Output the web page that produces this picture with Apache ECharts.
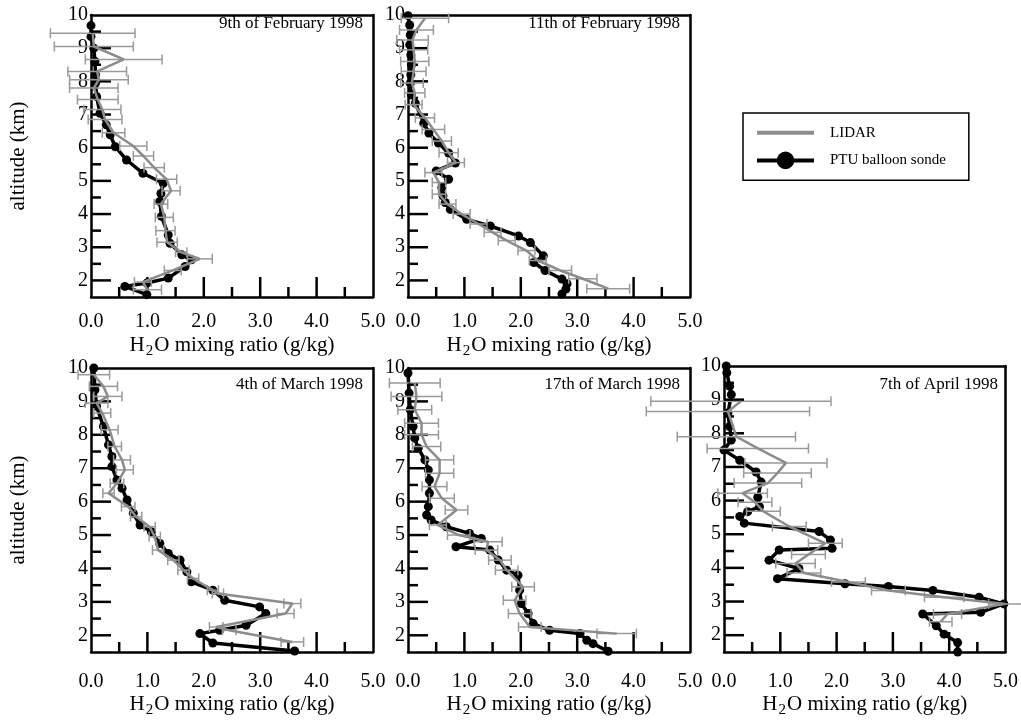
<!DOCTYPE html>
<html>
<head>
<meta charset="utf-8">
<title>H2O mixing ratio profiles 1998</title>
<script src="https://cdn.jsdelivr.net/npm/echarts@6/dist/echarts.min.js"></script>
<style>
  html, body { margin: 0; padding: 0; background: #fff; }
  #chart { width: 1021px; height: 721px; }
</style>
</head>
<body>
<div id="chart"></div>
<script>
  // axis ranges and ticks
  const xMin = 0
  const xMax = 5
  const altMin = 1.5
  const altMax = 10
  const xMajorTicks = [1, 2, 3, 4]
  const xMinorTicks = [0.5, 1.5, 2.5, 3.5, 4.5]
  const altLabels = [2, 3, 4, 5, 6, 7, 8, 9, 10]
  const altMajorTicks = [2, 3, 4, 5, 6, 7, 8, 9]
  const altMinorTicks = [2.5, 3.5, 4.5, 5.5, 6.5, 7.5, 8.5, 9.5]

  // 9th of February 1998
  const feb09SondeAlt = [9.68, 9.35, 9.0, 8.6, 8.2, 7.95, 7.54, 7.04, 6.69, 6.39, 6.03, 5.63, 5.23, 4.93, 4.62, 4.38, 3.93, 3.37, 3.12, 2.77, 2.62, 2.42, 2.07, 1.92, 1.82, 1.57]
  const feb09SondeVal = [0.0, 0.0, 0.05, 0.07, 0.08, 0.08, 0.10, 0.16, 0.27, 0.34, 0.43, 0.63, 0.92, 1.28, 1.24, 1.22, 1.25, 1.37, 1.40, 1.61, 1.78, 1.67, 1.37, 0.99, 0.60, 0.99]
  const feb09LidarAlt = [9.45, 9.05, 8.66, 8.3, 8.05, 7.8, 7.45, 7.15, 6.85, 6.45, 6.05, 5.75, 5.4, 5.05, 4.7, 4.3, 3.9, 3.5, 3.15, 2.85, 2.65, 2.3, 1.95, 1.72]
  const feb09LidarVal = [0.03, 0.05, 0.58, 0.11, 0.14, 0.05, 0.12, 0.2, 0.25, 0.4, 0.75, 0.93, 1.12, 1.34, 1.42, 1.24, 1.3, 1.32, 1.35, 1.6, 1.93, 1.45, 0.92, 1.0]
  const feb09LidarErr = [0.75, 0.7, 0.68, 0.52, 0.52, 0.43, 0.36, 0.33, 0.3, 0.2, 0.24, 0.18, 0.18, 0.18, 0.16, 0.12, 0.16, 0.17, 0.18, 0.1, 0.22, 0.15, 0.15, 0.25]

  // 11th of February 1998
  const feb11SondeAlt = [9.98, 9.7, 9.4, 9.1, 8.8, 8.5, 8.2, 7.94, 7.6, 7.34, 6.74, 6.44, 6.14, 5.84, 5.54, 5.3, 5.05, 4.8, 4.55, 4.35, 4.14, 3.84, 3.64, 3.34, 3.14, 2.74, 2.54, 2.3, 2.04, 1.9, 1.74, 1.59]
  const feb11SondeVal = [0.0, 0.03, 0.04, 0.03, 0.05, 0.06, 0.05, 0.04, 0.06, 0.13, 0.28, 0.37, 0.54, 0.72, 0.84, 0.5, 0.72, 0.6, 0.62, 0.66, 0.75, 1.04, 1.46, 1.96, 2.17, 2.4, 2.23, 2.43, 2.73, 2.82, 2.8, 2.73]
  const feb11LidarAlt = [9.9, 9.55, 9.25, 8.95, 8.6, 8.3, 7.95, 7.65, 7.3, 6.9, 6.55, 6.2, 5.85, 5.55, 5.25, 4.95, 4.6, 4.3, 4.0, 3.7, 3.45, 3.2, 2.9, 2.6, 2.3, 2.05, 1.75]
  const feb11LidarVal = [0.3, 0.15, 0.08, 0.1, 0.12, 0.1, 0.07, 0.12, 0.1, 0.3, 0.45, 0.6, 0.72, 0.85, 0.45, 0.55, 0.55, 0.7, 0.95, 1.25, 1.5, 1.75, 2.1, 2.3, 2.7, 3.1, 3.55]
  const feb11LidarErr = [0.42, 0.3, 0.28, 0.25, 0.25, 0.22, 0.2, 0.18, 0.15, 0.17, 0.2, 0.17, 0.17, 0.15, 0.15, 0.12, 0.12, 0.15, 0.15, 0.15, 0.15, 0.15, 0.15, 0.15, 0.2, 0.25, 0.38]

  // 4th of March 1998
  const mar04SondeAlt = [10.0, 9.35, 8.85, 8.25, 7.7, 7.35, 7.05, 6.65, 6.4, 6.05, 5.65, 5.3, 5.1, 4.75, 4.45, 4.25, 3.9, 3.6, 3.35, 3.05, 2.85, 2.65, 2.3, 2.15, 2.05, 1.77, 1.53]
  const mar04SondeVal = [0.05, 0.07, 0.1, 0.22, 0.31, 0.37, 0.37, 0.46, 0.55, 0.64, 0.75, 0.87, 1.07, 1.22, 1.37, 1.58, 1.7, 1.78, 2.16, 2.37, 2.99, 3.1, 2.75, 2.28, 1.93, 2.16, 3.61]
  const mar04LidarAlt = [9.8, 9.45, 9.15, 8.95, 8.65, 8.15, 7.65, 7.25, 6.95, 6.55, 6.25, 5.85, 5.55, 5.25, 4.95, 4.55, 4.25, 3.95, 3.7, 3.35, 3.25, 2.95, 2.65, 2.25, 2.15, 1.8]
  const mar04LidarVal = [0.05, 0.22, 0.3, 0.1, 0.2, 0.33, 0.42, 0.55, 0.6, 0.46, 0.31, 0.66, 0.8, 1.04, 1.13, 1.19, 1.46, 1.64, 1.81, 2.16, 2.25, 3.57, 3.45, 2.22, 2.45, 3.57]
  const mar04LidarErr = [0.28, 0.25, 0.25, 0.2, 0.15, 0.15, 0.12, 0.15, 0.15, 0.12, 0.1, 0.12, 0.1, 0.1, 0.1, 0.1, 0.1, 0.1, 0.1, 0.1, 0.1, 0.15, 0.15, 0.12, 0.12, 0.2]

  // 17th of March 1998
  const mar17SondeAlt = [9.85, 9.25, 8.75, 8.25, 7.9, 7.6, 7.25, 6.95, 6.65, 6.25, 5.85, 5.6, 5.45, 5.25, 5.05, 4.9, 4.65, 4.55, 4.25, 3.95, 3.8, 3.35, 2.95, 2.65, 2.35, 2.15, 2.05, 1.85, 1.75, 1.52]
  const mar17SondeVal = [0.0, 0.02, 0.04, 0.09, 0.12, 0.18, 0.3, 0.36, 0.38, 0.38, 0.36, 0.33, 0.41, 0.68, 1.09, 1.3, 0.85, 1.45, 1.6, 1.75, 1.95, 1.98, 2.01, 2.13, 2.22, 2.51, 3.05, 3.17, 3.28, 3.55]
  const mar17LidarAlt = [9.55, 9.15, 8.75, 8.35, 8.0, 7.65, 7.25, 6.85, 6.45, 6.1, 5.75, 5.3, 5.0, 4.8, 4.55, 4.25, 3.95, 3.45, 3.05, 2.65, 2.25, 2.05]
  const mar17LidarVal = [0.12, 0.15, 0.12, 0.24, 0.24, 0.33, 0.56, 0.56, 0.47, 0.6, 0.86, 0.53, 0.9, 1.42, 1.39, 1.63, 1.75, 2.04, 1.89, 1.98, 2.16, 3.7]
  const mar17LidarErr = [0.45, 0.45, 0.3, 0.3, 0.3, 0.25, 0.25, 0.25, 0.22, 0.22, 0.2, 0.15, 0.2, 0.25, 0.2, 0.2, 0.2, 0.2, 0.2, 0.2, 0.2, 0.35]

  // 7th of April 1998
  const apr07SondeAlt = [10.0, 9.8, 9.4, 9.15, 8.6, 8.2, 7.8, 7.5, 7.2, 6.85, 6.55, 6.1, 5.82, 5.67, 5.53, 5.33, 5.08, 4.83, 4.58, 4.53, 4.23, 3.98, 3.68, 3.53, 3.45, 3.33, 3.13, 2.93, 2.68, 2.63, 2.28, 2.03, 1.78, 1.5]
  const apr07SondeVal = [0.04, 0.05, 0.1, 0.13, 0.07, 0.1, 0.13, 0.0, 0.28, 0.57, 0.66, 0.6, 0.63, 0.42, 0.28, 0.36, 1.69, 1.89, 1.92, 0.98, 0.8, 1.33, 0.95, 2.15, 2.92, 3.71, 4.53, 4.97, 4.56, 3.53, 3.77, 3.91, 4.15, 4.15]
  const apr07LidarAlt = [8.95, 8.65, 7.9, 7.55, 7.12, 6.82, 6.52, 6.22, 5.95, 5.68, 5.23, 4.73, 4.4, 4.13, 3.85, 3.58, 3.33, 3.13, 2.93, 2.63, 2.4]
  const apr07LidarVal = [0.3, 0.07, 0.22, 0.6, 1.1, 0.95, 0.78, 0.33, 0.55, 0.7, 1.16, 1.8, 1.5, 1.27, 1.42, 2.21, 2.92, 3.91, 5.0, 3.97, 3.85]
  const apr07LidarErr = [1.6, 1.45, 1.05, 0.9, 0.73, 0.6, 0.6, 0.44, 0.3, 0.3, 0.3, 0.3, 0.3, 0.35, 0.3, 0.3, 0.3, 0.35, 0.3, 0.25, 0.2]

  const serif = '"Liberation Serif", "DejaVu Serif", serif'

  // layout: box = [left, top, width, height]; gaps for labels differ a bit between rows
  const panels = [
    {date: '9th of February 1998', box: [91, 15, 282, 282], dateTop: 15, yName: true, labelMargin: 15, nameGap: 35,
      sAlt: feb09SondeAlt, sVal: feb09SondeVal, lAlt: feb09LidarAlt, lVal: feb09LidarVal, lErr: feb09LidarErr},
    {date: '11th of February 1998', box: [408, 15, 282, 282], dateTop: 15, yName: false, labelMargin: 15, nameGap: 35,
      sAlt: feb11SondeAlt, sVal: feb11SondeVal, lAlt: feb11LidarAlt, lVal: feb11LidarVal, lErr: feb11LidarErr},
    {date: '4th of March 1998', box: [91, 368, 282, 284], dateTop: 376, yName: true, labelMargin: 20, nameGap: 39,
      sAlt: mar04SondeAlt, sVal: mar04SondeVal, lAlt: mar04LidarAlt, lVal: mar04LidarVal, lErr: mar04LidarErr},
    {date: '17th of March 1998', box: [408, 368, 282, 284], dateTop: 376, yName: false, labelMargin: 20, nameGap: 39,
      sAlt: mar17SondeAlt, sVal: mar17SondeVal, lAlt: mar17LidarAlt, lVal: mar17LidarVal, lErr: mar17LidarErr},
    {date: '7th of April 1998', box: [724, 366, 284, 286], dateTop: 376, yName: false, labelMargin: 20, nameGap: 39,
      sAlt: apr07SondeAlt, sVal: apr07SondeVal, lAlt: apr07LidarAlt, lVal: apr07LidarVal, lErr: apr07LidarErr}
  ]

  const tickStyle = {stroke: '#000', lineWidth: 2.5}

  // one inward tick, from an axis value through the panel's scales
  function tick (api, value, dx, dy) {
    const p = api.coord(value)
    return {type: 'line', shape: {x1: p[0], y1: p[1], x2: p[0] + dx, y2: p[1] + dy}, style: tickStyle}
  }

  // horizontal error bar with caps; the first item also carries the panel's axis ticks
  function renderErrorBar (params, api) {
    const v = api.value(0)
    const alt = api.value(1)
    const err = api.value(2)
    const lo = api.coord([v - err, alt])
    const hi = api.coord([v + err, alt])
    const cap = 5
    const style = {stroke: '#9a9a9a', lineWidth: 1.5}
    const children = [
      {type: 'line', shape: {x1: lo[0], y1: lo[1], x2: hi[0], y2: hi[1]}, style: style},
      {type: 'line', shape: {x1: lo[0], y1: lo[1] - cap, x2: lo[0], y2: lo[1] + cap}, style: style},
      {type: 'line', shape: {x1: hi[0], y1: hi[1] - cap, x2: hi[0], y2: hi[1] + cap}, style: style}
    ]
    if (params.dataIndex === 0) {
      xMajorTicks.forEach(function (t) { children.push(tick(api, [t, altMin], 0, -20)) })
      xMinorTicks.forEach(function (t) { children.push(tick(api, [t, altMin], 0, -10)) })
      altMajorTicks.forEach(function (a) { children.push(tick(api, [xMin, a], 20, 0)) })
      altMinorTicks.forEach(function (a) { children.push(tick(api, [xMin, a], 10, 0)) })
    }
    return {type: 'group', children: children}
  }

  function frame () { return {show: true, onZero: false, lineStyle: {color: '#000', width: 2.5}} }

  const grid = []
  const xAxis = []
  const yAxis = []
  const title = []
  const series = []

  panels.forEach(function (p, i) {
    grid.push({left: p.box[0], top: p.box[1], width: p.box[2], height: p.box[3]})

    const xi = xAxis.length
    xAxis.push({
      gridIndex: i, type: 'value', position: 'bottom', min: xMin, max: xMax, interval: 1,
      axisLine: frame(),
      axisTick: {show: false},
      minorTick: {show: false},
      splitLine: {show: false},
      axisLabel: {
        show: true, color: '#000', fontFamily: serif, fontSize: 20, margin: p.labelMargin,
        formatter: function (v) { return v.toFixed(1) }
      },
      name: 'H{sub|2}O mixing ratio (g/kg)',
      nameLocation: 'middle',
      nameGap: p.nameGap,
      nameMoveOverlap: false,
      nameTextStyle: {
        color: '#000', fontFamily: serif, fontSize: 21,
        rich: {sub: {fontFamily: serif, fontSize: 15, color: '#000', padding: [12, 1, 0, 1]}}
      }
    })
    // top frame
    xAxis.push({
      gridIndex: i, type: 'value', position: 'top', min: xMin, max: xMax,
      axisLine: frame(), axisTick: {show: false}, axisLabel: {show: false}, splitLine: {show: false}
    })

    const yi = yAxis.length
    yAxis.push({
      gridIndex: i, type: 'value', position: 'left', min: altMin, max: altMax,
      axisLine: frame(),
      axisTick: {show: false},
      splitLine: {show: false},
      axisLabel: {show: true, color: '#000', fontFamily: serif, fontSize: 20, margin: 3, customValues: altLabels},
      name: p.yName ? 'altitude (km)' : '',
      nameLocation: 'middle',
      nameGap: 62,
      nameMoveOverlap: false,
      nameTextStyle: {color: '#000', fontFamily: serif, fontSize: 21}
    })
    // right frame
    yAxis.push({
      gridIndex: i, type: 'value', position: 'right', min: altMin, max: altMax,
      axisLine: frame(), axisTick: {show: false}, axisLabel: {show: false}, splitLine: {show: false}
    })

    title.push({
      text: p.date,
      right: 1021 - (p.box[0] + p.box[2]) + 10,
      top: p.dateTop,
      padding: 0,
      textStyle: {color: '#000', fontFamily: serif, fontSize: 17, fontWeight: 'normal'}
    })

    series.push({
      name: 'PTU balloon sonde',
      type: 'line',
      xAxisIndex: xi,
      yAxisIndex: yi,
      data: p.sVal.map(function (v, k) { return [v, p.sAlt[k]] }),
      symbol: 'circle',
      symbolSize: 9,
      itemStyle: {color: '#000'},
      lineStyle: {color: '#000', width: 3.5},
      z: 2
    })
    series.push({
      name: 'LIDAR error',
      type: 'custom',
      xAxisIndex: xi,
      yAxisIndex: yi,
      renderItem: renderErrorBar,
      encode: {x: 0, y: 1},
      data: p.lVal.map(function (v, k) { return [v, p.lAlt[k], p.lErr[k]] }),
      z: 3
    })
    series.push({
      name: 'LIDAR',
      type: 'line',
      xAxisIndex: xi,
      yAxisIndex: yi,
      data: p.lVal.map(function (v, k) { return [v, p.lAlt[k]] }),
      symbol: 'none',
      itemStyle: {color: '#8c8c8c'},
      lineStyle: {color: '#8c8c8c', width: 2.5},
      z: 4
    })
  })

  const chart = echarts.init(document.getElementById('chart'), null, {renderer: 'canvas'})
  chart.setOption({
    animation: false,
    backgroundColor: '#fff',
    title: title,
    grid: grid,
    xAxis: xAxis,
    yAxis: yAxis,
    legend: {
      data: [
        {name: 'LIDAR', itemStyle: {color: 'rgba(0,0,0,0)', opacity: 0}, lineStyle: {width: 4}},
        {name: 'PTU balloon sonde', lineStyle: {width: 4}}
      ],
      orient: 'vertical',
      left: 743,
      top: 113,
      padding: [11, 23, 11, 12],
      itemWidth: 57,
      itemHeight: 22,
      itemGap: 10,
      selectedMode: false,
      borderColor: '#000',
      borderWidth: 1.5,
      textStyle: {color: '#000', fontFamily: serif, fontSize: 15, padding: [0, 0, 0, 11]}
    },
    series: series
  })
</script>
</body>
</html>
